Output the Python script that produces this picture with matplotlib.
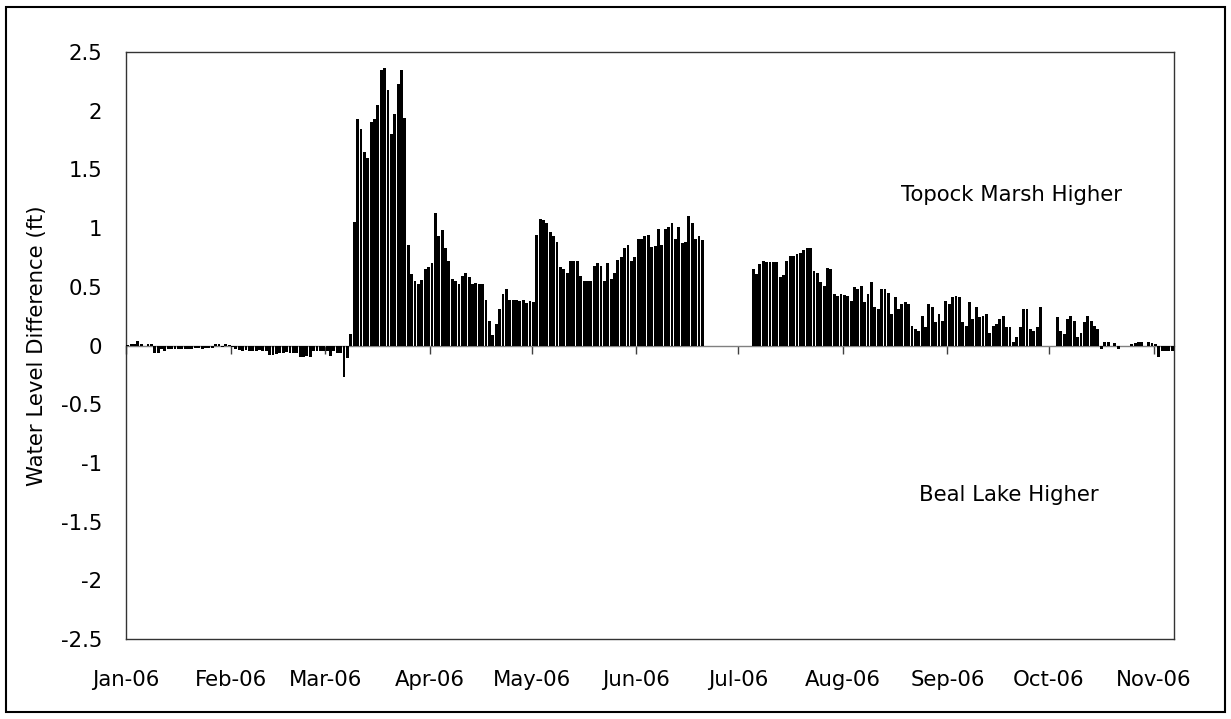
import numpy as np
import matplotlib
matplotlib.use('Agg')
import matplotlib.pyplot as plt
from matplotlib.patches import Rectangle

nan = np.nan

# Daily water level difference (ft), Topock Marsh minus Beal Lake, 2006
jan = [0.005, 0.01, 0.015, 0.04, 0.01, -0.005, 0.01, 0.01, -0.065, -0.06,
       -0.03, -0.05, -0.03, -0.03, -0.03, -0.028, -0.03, -0.028, -0.03, -0.03,
       -0.025, -0.025, -0.028, -0.02, -0.022, -0.02, 0.01, 0.012, -0.01, 0.015,
       0.005]
feb = [-0.01, -0.03, -0.04, -0.045, -0.04, -0.05, -0.045, -0.05, -0.04, -0.045,
       -0.05, -0.08, -0.08, -0.075, -0.06, -0.06, -0.055, -0.06, -0.06, -0.065,
       -0.1, -0.1, -0.09, -0.1, -0.05, -0.05, -0.045, -0.05]
mar = [-0.05, -0.09, -0.05, -0.06, -0.06, -0.27, -0.11, 0.10, 1.05, 1.93,
       1.84, 1.65, 1.60, 1.90, 1.93, 2.05, 2.35, 2.36, 2.18, 1.80,
       1.97, 2.23, 2.35, 1.94, 0.86, 0.61, 0.55, 0.52, 0.56, 0.65,
       0.67]
apr = [0.70, 1.13, 0.93, 0.98, 0.83, 0.72, 0.57, 0.55, 0.52, 0.59,
       0.62, 0.58, 0.52, 0.535, 0.52, 0.52, 0.39, 0.21, 0.09, 0.18,
       0.31, 0.44, 0.48, 0.39, 0.39, 0.39, 0.38, 0.39, 0.36, 0.38]
may = [0.37, 0.94, 1.08, 1.07, 1.04, 0.97, 0.93, 0.88, 0.67, 0.65,
       0.615, 0.72, 0.72, 0.72, 0.59, 0.55, 0.55, 0.55, 0.675, 0.70,
       0.675, 0.55, 0.70, 0.57, 0.62, 0.73, 0.755, 0.83, 0.86, 0.72,
       0.755]
jun = [0.91, 0.91, 0.93, 0.94, 0.835, 0.85, 0.99, 0.86, 0.99, 1.01,
       1.04, 0.91, 1.01, 0.87, 0.88, 1.10, 1.04, 0.91, 0.93, 0.90,
       nan, nan, nan, nan, nan, nan, nan, nan, nan, nan]
jul = [nan, nan, nan, nan, 0.65, 0.61, 0.69, 0.72, 0.71, 0.71,
       0.71, 0.71, 0.585, 0.60, 0.72, 0.76, 0.765, 0.78, 0.79, 0.81,
       0.83, 0.83, 0.635, 0.62, 0.54, 0.51, 0.66, 0.65, 0.44, 0.42,
       0.44]
aug = [0.43, 0.42, 0.38, 0.50, 0.48, 0.51, 0.37, 0.44, 0.54, 0.325,
       0.31, 0.48, 0.48, 0.45, 0.27, 0.41, 0.31, 0.35, 0.37, 0.35,
       0.17, 0.14, 0.126, 0.25, 0.155, 0.35, 0.33, 0.20, 0.27, 0.21,
       0.38]
sep = [0.35, 0.41, 0.42, 0.41, 0.20, 0.17, 0.37, 0.226, 0.325, 0.24,
       0.25, 0.27, 0.11, 0.17, 0.18, 0.226, 0.25, 0.155, 0.155, 0.03,
       0.07, 0.155, 0.31, 0.31, 0.14, 0.126, 0.155, 0.325, nan, nan]
oct_ = [nan, nan, 0.24, 0.126, 0.10, 0.226, 0.25, 0.21, 0.075, 0.11,
        0.20, 0.25, 0.21, 0.17, 0.14, -0.03, 0.027, 0.03, nan, 0.02,
        -0.03, nan, nan, nan, 0.015, 0.02, 0.03, 0.03, nan, 0.027,
        0.02]
nov = [0.015, -0.10, -0.045, -0.045, -0.045, -0.045]

month_labels = ['Jan-06', 'Feb-06', 'Mar-06', 'Apr-06', 'May-06', 'Jun-06',
                'Jul-06', 'Aug-06', 'Sep-06', 'Oct-06', 'Nov-06']
month_lengths = [31, 28, 31, 30, 31, 30, 31, 31, 30, 31]
y_ticks = [2.5, 2, 1.5, 1, 0.5, 0, -0.5, -1, -1.5, -2, -2.5]
y_tick_labels = ['2.5', '2', '1.5', '1', '0.5', '0', '-0.5', '-1', '-1.5', '-2', '-2.5']

values = np.array(jan + feb + mar + apr + may + jun + jul + aug + sep + oct_ + nov)
days = np.arange(len(values))
month_starts = np.concatenate([[0], np.cumsum(month_lengths)])

plt.rcParams['font.family'] = ['DejaVu Sans']
FS = 15.3

W, H = 1231, 719
fig = plt.figure(figsize=(W / 100, H / 100), dpi=100)
fig.patch.set_facecolor('white')

ax = fig.add_axes([126 / W, 80 / H, 1048 / W, 587 / H])
mask = ~np.isnan(values)
ax.bar(days[mask] + 0.5, values[mask], width=0.85, color='black',
       linewidth=0, zorder=3)
ax.set_xlim(0, len(values))
ax.set_ylim(-2.5, 2.5)
ax.set_yticks(y_ticks, y_tick_labels)
ax.set_xticks(month_starts, month_labels)
ax.tick_params(axis='both', length=0, labelsize=FS)
ax.tick_params(axis='y', pad=17)
ax.tick_params(axis='x', pad=22)
for s in ax.spines.values():
    s.set_color('#333333')
    s.set_linewidth(1.0)

ax.set_ylabel('Water Level Difference (ft)', fontsize=FS)
ax.yaxis.set_label_coords((47 - 126) / 1048, 0.5)

# zero axis line with month tick marks
sec = ax.secondary_xaxis(0, transform=ax.transData)
sec.set_xticks(month_starts)
sec.tick_params(axis='x', direction='out', length=5.8, width=1,
                color='#404040', labelbottom=False, labeltop=False)
sec.spines['bottom'].set_color('#808080')
sec.spines['bottom'].set_linewidth(1.0)

ax.text(262, 1.28, 'Topock Marsh Higher', ha='center', va='center', fontsize=FS)
ax.text(261, -1.27, 'Beal Lake Higher', ha='center', va='center', fontsize=FS)

fig.patches.append(Rectangle((6 / W, 7 / H), 1219 / W, 705 / H,
                             transform=fig.transFigure, fill=False,
                             edgecolor='black', linewidth=1.5))

fig.savefig('out.png', dpi=100)
